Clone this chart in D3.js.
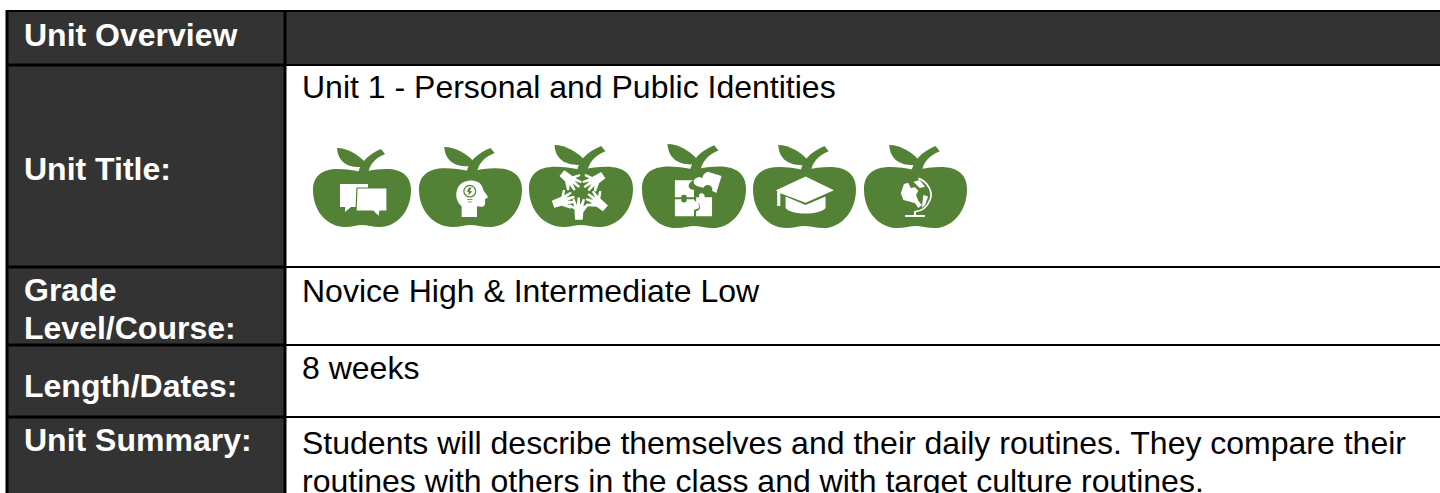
<!DOCTYPE html>
<html><head><meta charset="utf-8">
<script src="https://cdnjs.cloudflare.com/ajax/libs/d3/7.8.5/d3.min.js"></script>
<style>html,body{margin:0;padding:0;background:#fff;overflow:hidden}svg{display:block}text{font-family:"Liberation Sans",Arial,sans-serif;font-size:32px}</style>
</head><body><svg id="c" width="1440" height="493"></svg>
<script>
const rowLabels=[["Unit Overview"],["Unit Title:"],["Grade","Level/Course:"],["Length/Dates:"],["Unit Summary:"]];
const rowValues=[[],["Unit 1 - Personal and Public Identities"],["Novice High & Intermediate Low"],["8 weeks"],["Students will describe themselves and their daily routines. They compare their","routines with others in the class and with target culture routines."]];
const iconNames=["chat","head","hands","puzzle","cap","globe"];

// layout
const rowEdges=[11,65,267,345,417,500];
const labelBaselines=[[46],[180],[301,339],[397],[451]];
const valueBaselines=[[],[98],[302],[379],[454,492]];
const iconBoxes=[[313,147,98,80],[419,146,103,81],[529,144,104,83],[642,143,104,85],[753,144,103,84],[864,144,103,84]];
const colL=7,colM=285;

const svg=d3.select("#c");
const y=i=>rowEdges[i];
const rows=d3.range(rowLabels.length);
svg.selectAll("rect.left").data(rows).join("rect").attr("x",colL).attr("y",i=>y(i)).attr("width",colM-colL).attr("height",i=>y(i+1)-y(i)).attr("fill","#333333");
svg.append("rect").attr("x",colM).attr("y",y(0)).attr("width",1440-colM).attr("height",y(1)-y(0)).attr("fill","#333333");
svg.selectAll("line.h").data(rowEdges.slice(1,5)).join("line").attr("x1",colL).attr("x2",colM).attr("y1",d=>d).attr("y2",d=>d).attr("stroke","#000").attr("stroke-width",3);
svg.selectAll("line.h2").data(rowEdges.slice(1,5)).join("line").attr("x1",colM).attr("x2",1440).attr("y1",d=>d).attr("y2",d=>d).attr("stroke","#000").attr("stroke-width",2);
svg.append("line").attr("x1",colL).attr("x2",1440).attr("y1",y(0)).attr("y2",y(0)).attr("stroke","#000").attr("stroke-width",2);
svg.append("line").attr("x1",colL).attr("x2",colL).attr("y1",y(0)-1).attr("y2",493).attr("stroke","#000").attr("stroke-width",3);
svg.append("line").attr("x1",colM).attr("x2",colM).attr("y1",y(0)-1).attr("y2",493).attr("stroke","#000").attr("stroke-width",3);

rowLabels.forEach((lines,i)=>lines.forEach((t,j)=>svg.append("text").attr("x",24).attr("y",labelBaselines[i][j]).attr("fill","#fff").attr("font-weight","bold").text(t)));
rowValues.forEach((lines,i)=>lines.forEach((t,j)=>svg.append("text").attr("x",302).attr("y",valueBaselines[i][j]).attr("fill","#000").text(t)));

const G="#538135";
const apple="M49,25 C40,23 32,22 25,22 C8,22 0,30 0,43 C0,65 15,80 32,80 C39,80 44,78 49,78 C54,78 60,80 67,80 C83,80 98,65 98,43 C98,30 90,22 73,22 C65,22 58,23 49,25 Z";
const stem="M45,27 C47,16 54,8 68,2 L72,7 C62,11 56,18 55,27 Z";
const leaf="M24,1 C35,1 45,8 51,14 L49,20 C36,21 25,16 24,1 Z";
const icons={
 chat:g=>{
  g.append("path").attr("fill","#fff").attr("d","M27,37 H55 V42 H44 V60 H38 L32,65 V60 H27 Z");
  g.append("path").attr("fill","#fff").attr("stroke",G).attr("stroke-width",1.2).attr("d","M44,41 H74 V64 H67 L66,70 L60,64 H43 Z");
 },
 head:g=>{
  g.attr("transform","translate(9.6,5) scale(.86,.88)");
  g.append("path").attr("fill","#fff").attr("d","M36,74 V62 C30,56 29,50 31,43 C34,35 41,33 47,33 C54,33 59,37 60,44 C61,46 65,50 65,52 C64,53 62,53 62,54 V59 C61,63 58,63 53,62 V74 Z");
  g.append("circle").attr("cx",45).attr("cy",45).attr("r",6.5).attr("fill","none").attr("stroke",G).attr("stroke-width",1.3);
  g.append("path").attr("fill",G).attr("d","M44,41 L47,41 L45,45 H48 L43,50 L44,46 H42 Z M42,54 H48 V55 H42 Z M43,56.5 H47 V57.5 H43 Z");
 },
 hands:g=>{
  const hand="M-3,0 L-3.5,-8 L-8.5,-11 L-7.5,-12.5 L-3.8,-10.5 L-5,-16 L-3.4,-16.5 L-1.6,-11.5 L-1,-17.5 L.8,-17.5 L1,-11.5 L3.2,-16.5 L4.8,-16 L3.5,-10.5 L6.8,-13 L8,-11.8 L3.5,-6 L3,0 Z";
  [[47,73,0,1],[31,28,130,1],[70,30,-123,-1],[22.6,58,71,1],[72,62,-50,-1]].forEach(([x,yy,r,s])=>{
    g.append("path").attr("fill","#fff").attr("transform",`translate(${x},${yy}) rotate(${r}) scale(${s*1.2},1.22)`).attr("d",hand);
  });
 },
 puzzle:g=>{
  g.append("path").attr("fill","#fff").attr("d","M31,35 H48 C45,37 44,39 44,40 C44,44 48,44 49,44 V51 H42 C43,48 36,48 37,51 H31 Z");
  g.append("path").attr("fill","#fff").attr("d","M31,53 H37 C36,57 43,57 42,53 H49 C50,56 53,55 54,59 C54,63 50,62 49,63 V69 H31 Z");
  g.append("path").attr("fill","#fff").attr("d","M51,69 V64 C56,64 56,56 51,56 V51 H54 C52,46 60,46 59,51 H66 V69 Z");
  g.append("path").attr("fill","#fff").attr("d","M62,27 L75,31 L70,47 L66,45 C68,40 60,37 58,42 L53,41 C47,39 47,33 54,32 L57,33 C57,30 59,28 62,27 Z");
 },
 cap:g=>{
  g.append("path").attr("fill","#fff").attr("d","M50,31 L77,44 L50,56 L26,47 V59 H23 V45 L22,44 Z");
  g.append("path").attr("fill","#fff").attr("d","M31,50 L50,58 L69,50 V61 C64,68 36,68 31,61 Z");
 },
 globe:g=>{
  g.append("path").attr("fill","#fff").attr("d","M38,38 L42,37 L44.5,42 L48.6,41.3 L51.7,44.5 L49.5,48.6 L51.7,54 L55,58 L51.7,61 L48.6,56.5 L43.8,55 L37.5,53.3 L35,47 Z");
  g.append("path").attr("fill","#fff").attr("d","M47,36 L53,34.3 L58,40.6 L53,42 Z M56.5,48.6 L61,50 L58,58 L55,61 Z");
  g.append("path").attr("fill","none").attr("stroke","#fff").attr("stroke-width",1.6).attr("d","M51.7,32.7 C61,36 66,46 62.8,53.3 C60,60 55,64 48.6,64.4");
  g.append("path").attr("fill","#fff").attr("d","M47.5,64 H49.5 V67.5 H58 V69.5 H39 V67.5 H47.5 Z");
 }
};
iconNames.forEach((n,i)=>{
  const [x,yy,w,h]=iconBoxes[i];
  const g=svg.append("g").attr("transform",`translate(${x},${yy}) scale(${w/98},${h/80})`);
  g.append("path").attr("fill",G).attr("d",apple);
  g.append("path").attr("fill",G).attr("d",stem);
  g.append("path").attr("fill",G).attr("d",leaf);
  icons[n](g.append("g"));
});
</script></body></html>
